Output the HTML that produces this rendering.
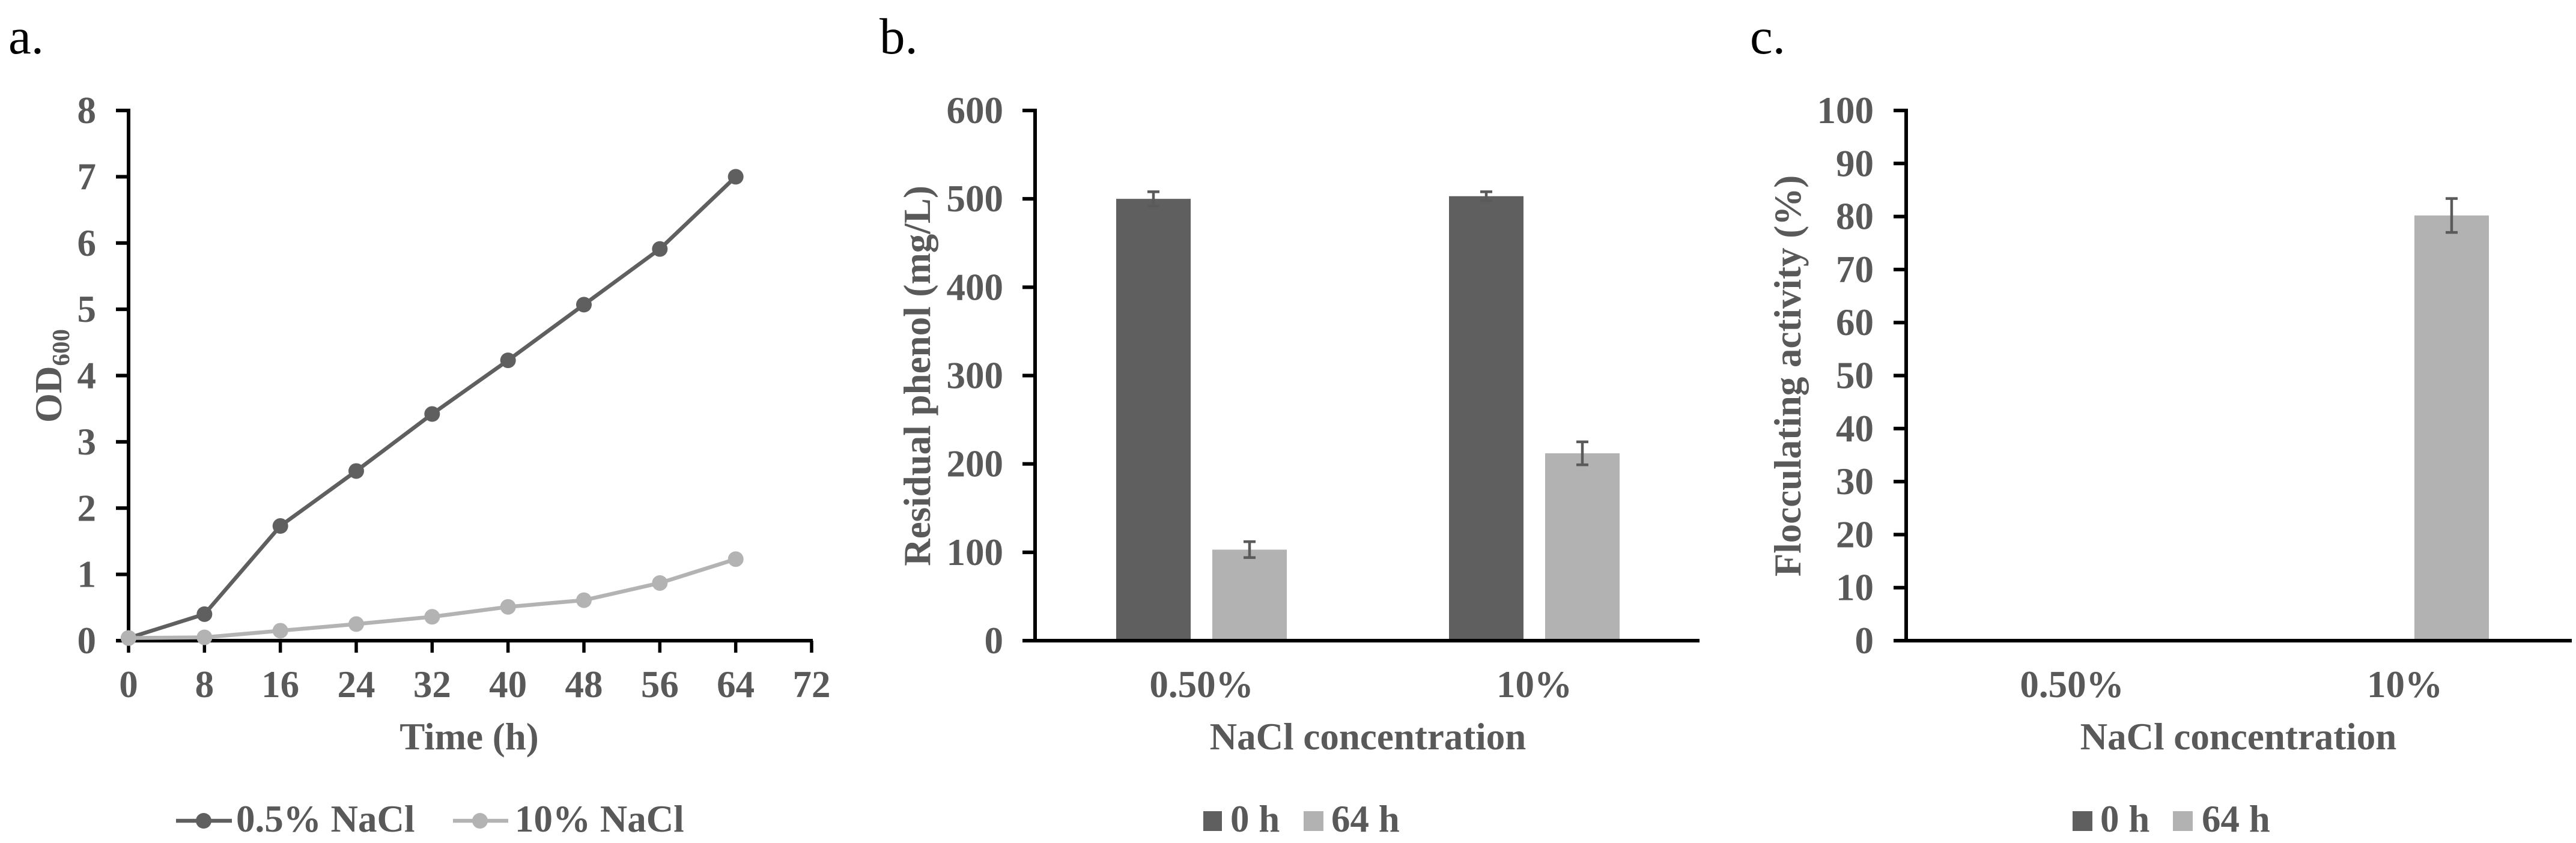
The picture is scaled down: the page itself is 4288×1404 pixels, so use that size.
<!DOCTYPE html>
<html lang="en">
<head>
<meta charset="utf-8">
<title>Growth, residual phenol and flocculating activity charts</title>
<style>
html,body{margin:0;padding:0;background:#fff;width:4288px;height:1404px;overflow:hidden}
svg{display:block}
text{font-family:"Liberation Serif",serif;font-weight:700;font-size:63px;fill:#595959}
.panel-letter{font-weight:400;font-size:85px;fill:#000}
</style>
</head>
<body>
<svg id="figure" xmlns="http://www.w3.org/2000/svg" width="4288" height="1404" viewBox="0 0 4288 1404">
  <rect width="4288" height="1404" fill="#fff"/>
  <text class="panel-letter" x="14" y="89">a.</text>
  <text class="panel-letter" x="1464" y="89">b.</text>
  <text class="panel-letter" x="2913" y="89">c.</text>

  <g id="panel-a"></g>
  <g id="panel-b"></g>
  <g id="panel-c"></g>

  <text transform="translate(102,704) rotate(-90)">OD<tspan font-size="41" dy="13">600</tspan></text>
  <text x="781" y="1248" text-anchor="middle">Time (h)</text>
  <text transform="translate(1548,626) rotate(-90)" text-anchor="middle">Residual phenol (mg/L)</text>
  <text x="2277" y="1248" text-anchor="middle">NaCl concentration</text>
  <text transform="translate(2997,626) rotate(-90)" text-anchor="middle">Flocculating activity (%)</text>
  <text x="3726" y="1248" text-anchor="middle">NaCl concentration</text>

  <g>
    <g>
      <line x1="293" x2="386" y1="1367" y2="1367" stroke="#5f5f5f" stroke-width="6.5"/>
      <circle cx="339" cy="1367" r="13" fill="#5f5f5f"/>
      <text x="393" y="1385">0.5% NaCl</text>
    </g>
    <g>
      <line x1="754" x2="846" y1="1367" y2="1367" stroke="#b3b3b3" stroke-width="6.5"/>
      <circle cx="799" cy="1367" r="13" fill="#b3b3b3"/>
      <text x="857" y="1385">10% NaCl</text>
    </g>
  </g>
  <g>
    <g>
      <rect x="2003" y="1351" width="31" height="33" fill="#5f5f5f"/>
      <text x="2048" y="1385">0 h</text>
    </g>
    <g>
      <rect x="2170" y="1351" width="33" height="33" fill="#b2b2b2"/>
      <text x="2216" y="1385">64 h</text>
    </g>
  </g>
  <g>
    <g>
      <rect x="3450" y="1351" width="33" height="33" fill="#5f5f5f"/>
      <text x="3496" y="1385">0 h</text>
    </g>
    <g>
      <rect x="3617" y="1351" width="33" height="33" fill="#b2b2b2"/>
      <text x="3665" y="1385">64 h</text>
    </g>
  </g>
</svg>
<script>
// Panel a data
const timeHours = [0, 8, 16, 24, 32, 40, 48, 56, 64];
const od05Percent = [0.04, 0.40, 1.73, 2.56, 3.42, 4.23, 5.07, 5.91, 7.00];
const od10Percent = [0.04, 0.05, 0.15, 0.25, 0.36, 0.51, 0.61, 0.87, 1.23];
const aXTicks = [0, 8, 16, 24, 32, 40, 48, 56, 64, 72];
const aYTicks = [0, 1, 2, 3, 4, 5, 6, 7, 8];

// Panel b data
const bCategories = ['0.50%', '10%'];
const phenol0h = [500, 503];
const phenol64h = [103, 212];
const phenol0hError = [8, 5];
const phenol64hError = [9, 13];
const bYTicks = [0, 100, 200, 300, 400, 500, 600];

// Panel c data
const cCategories = ['0.50%', '10%'];
const flocculating0h = [0, 0];
const flocculating64h = [0, 80.2];
const flocculating0hError = [0, 0];
const flocculating64hError = [0, 3.2];
const cYTicks = [0, 10, 20, 30, 40, 50, 60, 70, 80, 90, 100];

const SVG_NS = 'http://www.w3.org/2000/svg';
const AXIS_Y0 = 1067, AXIS_TOP = 184, AXIS_W = 6, INK = '#000';
const DARK = '#5f5f5f', LIGHT = '#b2b2b2', ERR = '#5a5a5a';

function make(parent, tag, props, text) {
  const el = document.createElementNS(SVG_NS, tag);
  for (const k in props) el.setAttribute(k, props[k]);
  if (text !== undefined) el.textContent = text;
  parent.appendChild(el);
  return el;
}
function yScale(maxValue) {
  return v => AXIS_Y0 - v * (AXIS_Y0 - AXIS_TOP) / maxValue;
}
function drawYAxis(g, axisX, rightEnd, ticks, y, labelX, prefix) {
  ticks.forEach(t => {
    const tick = make(g, 'line', {x1: axisX - 21, x2: axisX, y1: y(t), y2: y(t), stroke: INK, 'stroke-width': AXIS_W});
    
    
    const label = make(g, 'text', {x: labelX, y: y(t) + 21, 'text-anchor': 'end'}, String(t));
    
    
  });
  const yLine = make(g, 'line', {x1: axisX, x2: axisX, y1: AXIS_TOP - 3, y2: AXIS_Y0 + 3, stroke: INK, 'stroke-width': AXIS_W});
  
  
  const xLine = make(g, 'line', {x1: axisX - 21, x2: rightEnd, y1: AXIS_Y0, y2: AXIS_Y0, stroke: INK, 'stroke-width': AXIS_W});
  
  
}

/* ---------- Panel a ---------- */
(function () {
  const g = document.getElementById('panel-a');
  const xA = t => 214 + t * (1351 - 214) / 72;
  const yA = yScale(8);
  drawYAxis(g, 214, 1353, aYTicks, yA, 160, 'panel-a');
  aXTicks.forEach(t => {
    const tick = make(g, 'line', {x1: xA(t), x2: xA(t), y1: AXIS_Y0, y2: 1087, stroke: INK, 'stroke-width': 5.5});
    
    
    const label = make(g, 'text', {x: xA(t), y: 1161, 'text-anchor': 'middle'}, String(t));
    
    
  });
  function series(values, color, key) {
    const pts = values.map((v, i) => xA(timeHours[i]) + ',' + yA(v)).join(' ');
    const line = make(g, 'polyline', {points: pts, fill: 'none', stroke: color, 'stroke-width': 6.5, 'stroke-linejoin': 'round'});
    
    
    values.forEach((v, i) => {
      const dot = make(g, 'circle', {cx: xA(timeHours[i]), cy: yA(v), r: 13, fill: color});
      
      
    });
  }
  series(od05Percent, DARK, 'series-0-5-percent-nacl');
  series(od10Percent, '#b3b3b3', 'series-10-percent-nacl');
})();

/* ---------- Bar panels ---------- */
function barPanel(cfg) {
  const g = document.getElementById(cfg.id);
  const y = yScale(cfg.yMax);
  const xCat = i => cfg.plotLeft + (i + 0.5) * cfg.step;
  const BAR_W = 124;
  function bars(values, errors, color, side, key) {
    values.forEach((v, i) => {
      const cx = xCat(i) + side * cfg.offset;
      const bar = make(g, 'rect', {x: cx - BAR_W / 2, y: y(v), width: BAR_W, height: Math.max(0, AXIS_Y0 - y(v)), fill: color});
      
      
    });
    values.forEach((v, i) => {
      if (!errors[i]) return;
      const cx = xCat(i) + side * cfg.offset;
      const eg = make(g, 'g', {stroke: ERR, 'stroke-width': 4.5});
      
      
      make(eg, 'line', {x1: cx, x2: cx, y1: y(v + errors[i]), y2: y(v - errors[i])});
      make(eg, 'line', {x1: cx - 10, x2: cx + 10, y1: y(v + errors[i]), y2: y(v + errors[i])});
      make(eg, 'line', {x1: cx - 10, x2: cx + 10, y1: y(v - errors[i]), y2: y(v - errors[i])});
    });
  }
  bars(cfg.series0, cfg.err0, DARK, -1, cfg.name + '-0-h');
  bars(cfg.series64, cfg.err64, LIGHT, 1, cfg.name + '-64-h');
  drawYAxis(g, cfg.axisX, cfg.rightEnd, cfg.ticks, y, cfg.labelX, cfg.name);
  cfg.categories.forEach((c, i) => {
    const label = make(g, 'text', {x: xCat(i), y: 1161, 'text-anchor': 'middle'}, c);
    
    
  });
}
barPanel({id: 'panel-b', name: 'panel-b', axisX: 1723, rightEnd: 2829, plotLeft: 1723, step: 554, offset: 80,
  yMax: 600, ticks: bYTicks, labelX: 1670, categories: bCategories,
  series0: phenol0h, err0: phenol0hError, series64: phenol64h, err64: phenol64hError});
barPanel({id: 'panel-c', name: 'panel-c', axisX: 3173, rightEnd: 4281, plotLeft: 3172, step: 554, offset: 78,
  yMax: 100, ticks: cYTicks, labelX: 3119, categories: cCategories,
  series0: flocculating0h, err0: flocculating0hError, series64: flocculating64h, err64: flocculating64hError});
</script>
</body>
</html>
